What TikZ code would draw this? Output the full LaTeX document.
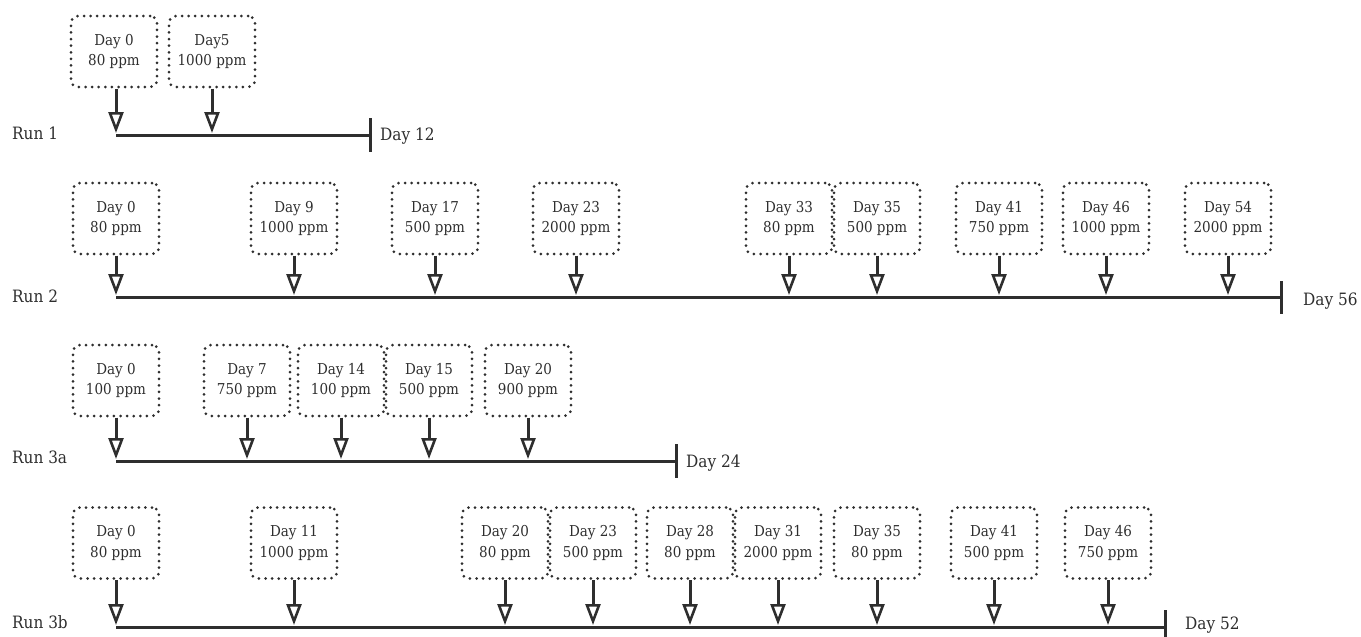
\documentclass[tikz,border=0pt]{standalone}
\usepackage{fontspec}
\setmainfont{DejaVu Serif Condensed}
\usetikzlibrary{arrows.meta}
\definecolor{ink}{HTML}{2E2E2E}
\begin{document}
\begin{tikzpicture}[x=1pt,y=-1pt,
  evbox/.style={draw=ink, line width=3pt, dash pattern=on 0pt off 6.6pt, line cap=round,
    rounded corners=7pt, minimum width=86pt, minimum height=71pt, align=center,
    text=ink, font=\fontsize{15}{20.5}\selectfont, inner sep=2pt},
  arr/.style={draw=ink, line width=3pt, -{Triangle[open,length=21pt,width=15pt,line width=2.6pt]}},
  tline/.style={draw=ink, line width=3pt},
  tick/.style={draw=ink, line width=3pt},
  lbl/.style={text=ink, font=\fontsize{17}{20}\selectfont, inner sep=0pt}]
\useasboundingbox (0,0) rectangle (1361,637);
% ---------------- Run 1
\node[lbl, anchor=west] (run1) at (12,133) {Run 1};
\coordinate (r1s) at (116,135);
\coordinate (r1e) at (370,135);
\draw[tline] (r1s) -- (r1e);
\draw[tick] (370,118) -- (370,152);
\node[lbl, anchor=west] (r1end) at (380,136) {Day 12};
\node[evbox] (r1a) at (114,51.5) {Day 0\\80 ppm};
\node[evbox] (r1b) at (212,51.5) {Day5\\1000 ppm};
\draw[arr] (r1a.south -| 116,0) -- (116,133);
\draw[arr] (r1b.south) -- (212,133);
% ---------------- Run 2
\node[lbl, anchor=west] (run2) at (12,296) {Run 2};
\coordinate (r2s) at (116,297);
\coordinate (r2e) at (1281,297);
\draw[tline] (r2s) -- (r2e);
\draw[tick] (1281,281) -- (1281,314);
\node[lbl, anchor=west] (r2end) at (1303,301) {Day 56};
\foreach \x/\t/\n in {116/{Day 0\\80 ppm}/a, 294/{Day 9\\1000 ppm}/b, 435/{Day 17\\500 ppm}/c,
  576/{Day 23\\2000 ppm}/d, 789/{Day 33\\80 ppm}/e, 877/{Day 35\\500 ppm}/f,
  999/{Day 41\\750 ppm}/g, 1106/{Day 46\\1000 ppm}/h, 1228/{Day 54\\2000 ppm}/i}{
  \node[evbox] (r2\n) at (\x,218.5) {\t};
  \draw[arr] (r2\n.south) -- (\x,295);
}
% ---------------- Run 3a
\node[lbl, anchor=west] (run3a) at (12,457) {Run 3a};
\coordinate (r3s) at (116,461);
\coordinate (r3e) at (676,461);
\draw[tline] (r3s) -- (r3e);
\draw[tick] (676,444) -- (676,478);
\node[lbl, anchor=west] (r3end) at (686,463) {Day 24};
\foreach \x/\t/\n in {116/{Day 0\\100 ppm}/a, 247/{Day 7\\750 ppm}/b, 341/{Day 14\\100 ppm}/c,
  429/{Day 15\\500 ppm}/d, 528/{Day 20\\900 ppm}/e}{
  \node[evbox] (r3\n) at (\x,380.5) {\t};
  \draw[arr] (r3\n.south) -- (\x,459);
}
% ---------------- Run 3b
\node[lbl, anchor=west] (run3b) at (12,622) {Run 3b};
\coordinate (r4s) at (116,627);
\coordinate (r4e) at (1165,627);
\draw[tline] (r4s) -- (r4e);
\draw[tick] (1165,610) -- (1165,640);
\node[lbl, anchor=west] (r4end) at (1185,625) {Day 52};
\foreach \x/\t/\n in {116/{Day 0\\80 ppm}/a, 294/{Day 11\\1000 ppm}/b, 505/{Day 20\\80 ppm}/c,
  593/{Day 23\\500 ppm}/d, 690/{Day 28\\80 ppm}/e, 778/{Day 31\\2000 ppm}/f,
  877/{Day 35\\80 ppm}/g, 994/{Day 41\\500 ppm}/h, 1108/{Day 46\\750 ppm}/i}{
  \node[evbox] (r4\n) at (\x,543) {\t};
  \draw[arr] (r4\n.south) -- (\x,625);
}
\end{tikzpicture}
\end{document}
